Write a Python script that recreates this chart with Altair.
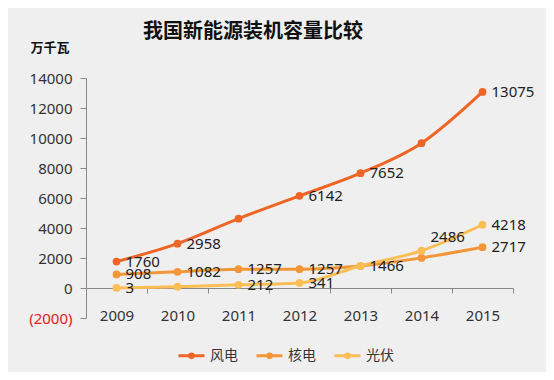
import altair as alt
import pandas as pd

years = ["2009", "2010", "2011", "2012", "2013", "2014", "2015"]
series_names = ["风电", "核电", "光伏"]
wind = [1760, 2958, 4623, 6142, 7652, 9657, 13075]
nuclear = [908, 1082, 1257, 1257, 1466, 2008, 2717]
solar = [3, 86, 212, 341, 1480, 2486, 4218]
wind_show = [1, 1, 0, 1, 1, 0, 1]
nuclear_show = [1, 1, 1, 1, 1, 0, 1]
solar_show = [1, 0, 1, 1, 0, 1, 1]
y_ticks = [-2000, 0, 2000, 4000, 6000, 8000, 10000, 12000, 14000]
colors = ["#EE6526", "#F39637", "#FBBE55"]

rows = []
for name, vals, show in zip(series_names, [wind, nuclear, solar],
                            [wind_show, nuclear_show, solar_show]):
    for y, v, s in zip(years, vals, show):
        rows.append({"year": y, "series": name, "value": v, "show": s})
df = pd.DataFrame(rows)

FONT = "Noto Sans"
CJK = "Noto Sans CJK SC"

x_enc = alt.X("year:N", sort=years, title=None,
              scale=alt.Scale(paddingInner=0, paddingOuter=0),
              axis=alt.Axis(offset=-30, tickBand="extent", labelAngle=0,
                            tickSize=5, labelPadding=15, domainColor="#888",
                            tickColor="#888", labelFont=FONT, labelFontSize=15,
                            labelColor="#333", grid=False))
y_enc = alt.Y("value:Q", title="万千瓦",
              scale=alt.Scale(domain=[-2000, 14000], nice=False, zero=False),
              axis=alt.Axis(values=y_ticks, tickCount=20, format="d", grid=False, labelOverlap=False,
                            labelExpr="datum.value < 0 ? '(' + format(-datum.value, 'd') + ')' : format(datum.value, 'd')",
                            labelColor=alt.condition("datum.value < 0", alt.value("#E0201B"), alt.value("#333")),
                            labelFont=FONT, labelFontSize=15, tickSize=6, labelPadding=8,
                            domainColor="#888", tickColor="#888",
                            titleAngle=0, titleAlign="left", titleBaseline="middle",
                            titleX=-56, titleY=-31, titleFont=CJK, titleFontSize=13,
                            titleFontWeight="bold", titleColor="#111"))
legend = alt.Legend(orient="none", direction="horizontal",
                    legendX=91, legendY=263,
                    symbolType="M-1,0L1,0M-0.14,0A0.14,0.14,0,1,0,0.14,0A0.14,0.14,0,1,0,-0.14,0",
                    symbolSize=676, symbolStrokeWidth=3,
                    labelFont=CJK, labelFontSize=14, labelColor="#333",
                    columnPadding=12, labelOffset=4)

base = alt.Chart(df)
lines = base.mark_line(interpolate="monotone", strokeWidth=3).encode(
    x=x_enc, y=y_enc,
    color=alt.Color("series:N", sort=series_names, title=None,
                    scale=alt.Scale(domain=series_names, range=colors), legend=legend))
points = base.mark_circle(size=60, opacity=1).encode(
    x=alt.X("year:N", sort=years), y="value:Q",
    color=alt.Color("series:N", sort=series_names))
labels = base.transform_filter("datum.show == 1 && !(datum.series == '光伏' && datum.year == '2014')").mark_text(
    align="left", baseline="middle", dx=9, font=FONT, fontSize=15, color="#222").encode(
    x=alt.X("year:N", sort=years), y="value:Q", text="value:Q")
labels_up = base.transform_filter("datum.show == 1 && datum.series == '光伏' && datum.year == '2014'").mark_text(
    align="left", baseline="middle", dx=9, dy=-14, font=FONT, fontSize=15, color="#222").encode(
    x=alt.X("year:N", sort=years), y="value:Q", text="value:Q")

chart = alt.layer(lines, points, labels, labels_up).properties(
    width=427, height=240,
    autosize=alt.AutoSizeParams(type="none"),
    padding={"left": 78, "top": 70, "right": 33, "bottom": 54},
    background="#EFEFEF",
    title=alt.TitleParams("我国新能源装机容量比较", anchor="start", frame="group",
                          dx=57, offset=-1, font=CJK, fontSize=20,
                          fontWeight="bold", color="#111"),
).configure_view(stroke=None)

chart.save("out.html", embed_options={"renderer": "svg", "actions": False})
